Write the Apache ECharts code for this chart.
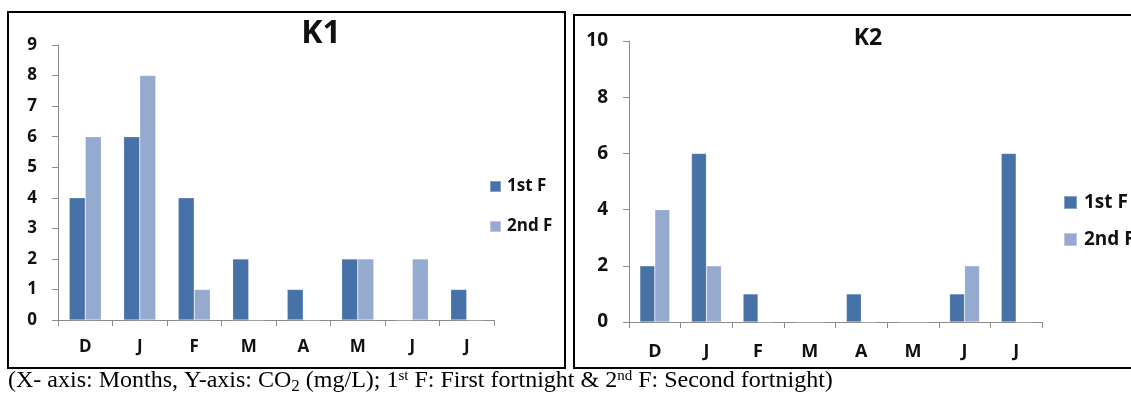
<!DOCTYPE html>
<html>
<head>
<meta charset="utf-8">
<script src="https://cdn.jsdelivr.net/npm/echarts@6/dist/echarts.min.js"></script>
<style>
  html, body { margin: 0; padding: 0; background: #fff; }
  #chart { width: 1131px; height: 394px; }
</style>
</head>
<body>
<div id="chart"></div>
<script>
// Monthly CO2 (mg/L), December to July, two fortnights per month
const months = ['D', 'J', 'F', 'M', 'A', 'M', 'J', 'J'];
const seriesNames = ['1st F', '2nd F'];

const k1First  = [4, 6, 4, 2, 1, 2, 0, 1];
const k1Second = [6, 8, 1, 0, 0, 2, 2, 0];

const k2First  = [2, 6, 1, 0, 1, 0, 1, 6];
const k2Second = [4, 2, 0, 0, 0, 0, 2, 0];

const k1Ticks = { min: 0, max: 9, interval: 1 };
const k2Ticks = { min: 0, max: 10, interval: 2 };

const DARK = '#4672A8';
const LIGHT = '#95AACF';
const AXIS = '#8C8C8C';
const FONT = '"Open Sans", Lato, sans-serif';
const SERIF = '"Liberation Serif", "Times New Roman", serif';

const chart = echarts.init(document.getElementById('chart'), null, { renderer: 'canvas' });

function xAxisFor(gridIndex, margin, size) {
  return {
    type: 'category', gridIndex, data: months,
    axisLine: { lineStyle: { color: AXIS, width: 1 } },
    axisTick: { show: true, length: 6, lineStyle: { color: AXIS } },
    axisLabel: { margin, color: '#111', fontFamily: FONT, fontWeight: 'bold', fontSize: size }
  };
}
function yAxisFor(gridIndex, t, size) {
  return {
    type: 'value', gridIndex, min: t.min, max: t.max, interval: t.interval,
    splitLine: { show: false },
    axisLine: { show: true, lineStyle: { color: AXIS, width: 1 } },
    axisTick: { show: true, length: 6, lineStyle: { color: AXIS } },
    axisLabel: { margin: 21, color: '#111', fontFamily: FONT, fontWeight: 'bold', fontSize: size }
  };
}
function barSeries(name, data, color, axisIndex, gap) {
  return {
    type: 'bar', name, data,
    xAxisIndex: axisIndex, yAxisIndex: axisIndex,
    barGap: '0%', barCategoryGap: gap,
    itemStyle: { color, borderColor: 'rgba(255,255,255,0.35)', borderWidth: 0.6 },
    emphasis: { disabled: true },
    animation: false
  };
}

chart.setOption({
  animation: false,
  title: [
    { text: 'K1', left: 321, top: 18, padding: 0, textAlign: 'center',
      textStyle: { fontFamily: FONT, fontWeight: 'bold', fontSize: 32, color: '#111' } },
    { text: 'K2', left: 868, top: 27, padding: 0, textAlign: 'center',
      textStyle: { fontFamily: FONT, fontWeight: 'bold', fontSize: 23, color: '#111' } }
  ],
  legend: [
    { orient: 'vertical', left: 489, top: 178, padding: 0, itemWidth: 11, itemHeight: 11, itemGap: 23,
      icon: 'rect', data: seriesNames, selectedMode: false,
      textStyle: { fontFamily: FONT, fontWeight: 'bold', fontSize: 17, lineHeight: 17, color: '#111', padding: [0, 0, 0, 1] } },
    { orient: 'vertical', left: 1063, top: 193, padding: 0, itemWidth: 13, itemHeight: 13, itemGap: 18,
      icon: 'rect', data: seriesNames, selectedMode: false,
      textStyle: { fontFamily: FONT, fontWeight: 'bold', fontSize: 19, lineHeight: 19, color: '#111', padding: [0, 0, 0, 2] } }
  ],
  grid: [
    { left: 58, top: 45, width: 436, height: 275 },
    { left: 629, top: 41, width: 413, height: 281 }
  ],
  xAxis: [xAxisFor(0, 19, 17), xAxisFor(1, 21, 18)],
  yAxis: [yAxisFor(0, k1Ticks, 17), yAxisFor(1, k2Ticks, 19)],
  series: [
    barSeries(seriesNames[0], k1First, DARK, 0, '41%'),
    barSeries(seriesNames[1], k1Second, LIGHT, 0, '41%'),
    barSeries(seriesNames[0], k2First, DARK, 1, '42%'),
    barSeries(seriesNames[1], k2Second, LIGHT, 1, '42%')
  ],
  graphic: [
    { type: 'rect', shape: { x: 8, y: 12, width: 557, height: 356 },
      style: { fill: 'none', stroke: '#000', lineWidth: 2 }, silent: true },
    { type: 'rect', shape: { x: 574, y: 15, width: 565, height: 353 },
      style: { fill: 'none', stroke: '#000', lineWidth: 2 }, silent: true },
    { type: 'text', left: 8, top: 369, silent: true,
      style: {
        text: '{n|(X- axis: Months, Y-axis: CO}{sub|2}{n| (mg/L); 1}{sup|st}{n| F: First fortnight & 2}{sup|nd}{n| F: Second fortnight)}',
        rich: {
          n:   { fontFamily: SERIF, fontSize: 24, color: '#000', lineHeight: 28, verticalAlign: 'bottom' },
          sub: { fontFamily: SERIF, fontSize: 17, color: '#000', lineHeight: 28, padding: [0, 0, -2, 0], verticalAlign: 'bottom' },
          sup: { fontFamily: SERIF, fontSize: 15, color: '#000', lineHeight: 28, padding: [0, 0, 9, 0], verticalAlign: 'bottom' }
        }
      } }
  ]
});
</script>
</body>
</html>
